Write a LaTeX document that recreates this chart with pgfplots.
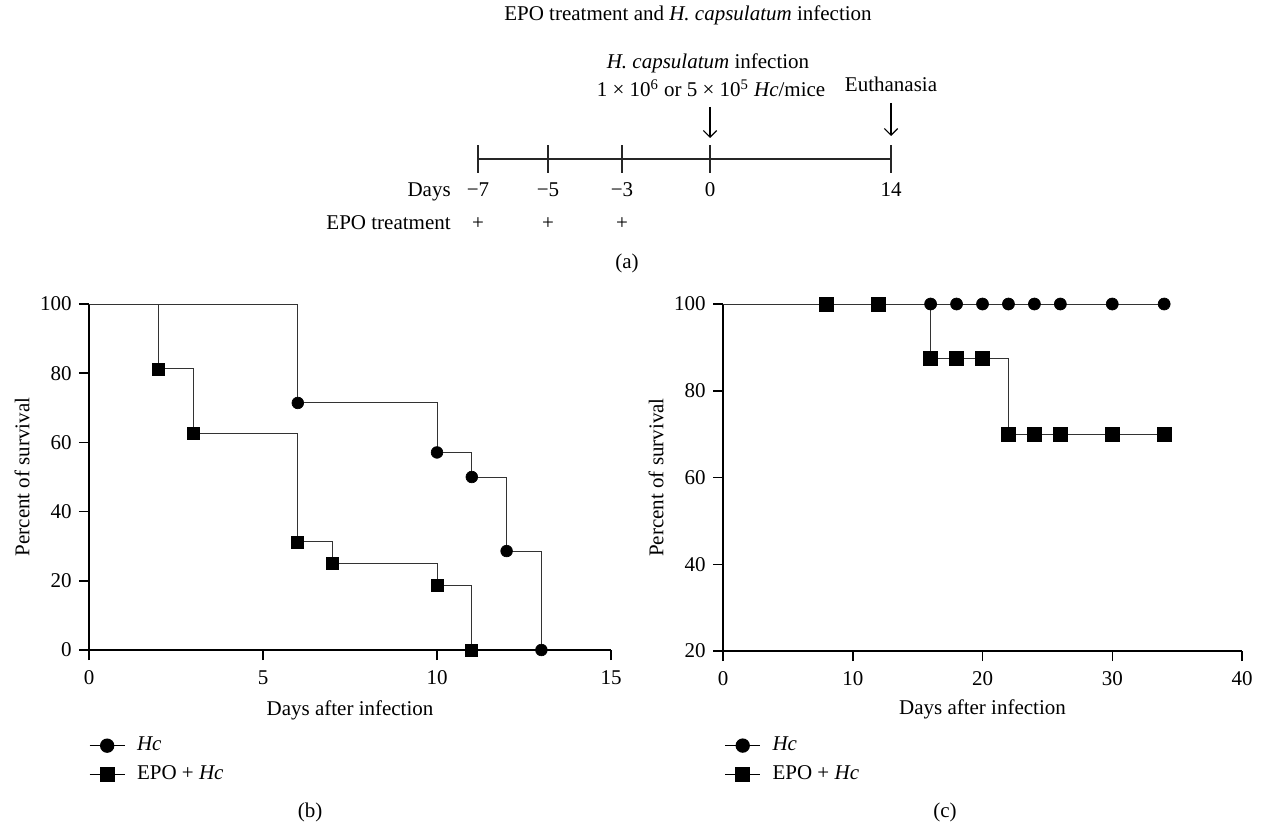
\documentclass[border=0pt]{standalone}
\usepackage{fontspec}
\setmainfont{Liberation Serif}
\usepackage{pgfplots}
\pgfplotsset{compat=1.18}
\usetikzlibrary{arrows.meta}
\pgfplotsset{
  survival/.style={
    scale only axis,
    axis lines=left,
    axis line style={-, line width=0.9pt, black},
    tick align=outside,
    major tick length=6pt,
    tick style={line width=0.9pt, black},
    /pgf/number format/assume math mode=true,
    xticklabel style={yshift=-2pt},
    clip=false,
    legend style={draw=none, fill=none, inner sep=0pt, outer sep=0pt,
      nodes={inner sep=0pt}, cells={anchor=west}, column sep=7pt, row sep=7pt},
    legend image code/.code={\draw[mark repeat=2,mark phase=2,##1] plot coordinates {(0pt,0pt) (10.5pt,0pt) (21pt,0pt)};},
  },
  steps/.style={const plot, black!80, line width=0.6pt, mark=none},
}
\begin{document}
\fontsize{12.6pt}{15pt}\selectfont
\begin{tikzpicture}[font=\fontsize{12.6pt}{15pt}\selectfont]
\useasboundingbox (0,0) rectangle (756.6pt,495.6pt);
% ---------- (a) timeline ----------
\node[anchor=base] at (412.8pt,483.2pt) {EPO treatment and \textit{H. capsulatum} infection};
\node[anchor=base] at (424.8pt,454.6pt) {\textit{H. capsulatum} infection};
\node[anchor=base] at (426.6pt,437.6pt) {1 × 10\textsuperscript{6} or 5 × 10\textsuperscript{5} \textit{Hc}/mice};
\node[anchor=base] at (534.6pt,440.6pt) {Euthanasia};
\draw[line width=0.9pt, black!85] (286.8pt,400.2pt) -- (534.6pt,400.2pt);
\foreach \x in {286.8,328.8,373.2,426,534.6}
  \draw[line width=0.9pt, black!85] (\x pt,391.8pt) -- (\x pt,408.6pt);
\draw[line width=0.7pt, -{Straight Barb[length=4pt,width=8pt]}] (426pt,431.4pt) -- (426pt,412.8pt);
\draw[line width=0.7pt, -{Straight Barb[length=4pt,width=8pt]}] (534.6pt,433.8pt) -- (534.6pt,414pt);
\node[anchor=base east, inner sep=0pt] at (270.6pt,377.4pt) {Days};
\node[anchor=base] at (286.8pt,377.4pt) {−7};
\node[anchor=base] at (328.8pt,377.4pt) {−5};
\node[anchor=base] at (373.2pt,377.4pt) {−3};
\node[anchor=base] at (426pt,377.4pt) {0};
\node[anchor=base] at (534.6pt,377.4pt) {14};
\node[anchor=base east, inner sep=0pt] at (270.6pt,357.6pt) {EPO treatment};
\node[anchor=base] at (286.8pt,357.6pt) {+};
\node[anchor=base] at (328.8pt,357.6pt) {+};
\node[anchor=base] at (373.2pt,357.6pt) {+};
\node[anchor=base] at (376.2pt,334.2pt) {(a)};
% ---------- (b) ----------
\begin{axis}[survival,
  at={(53.4pt,105.6pt)}, anchor=south west,
  width=313.2pt, height=207.6pt,
  xmin=0, xmax=15, ymin=0, ymax=100,
  xtick={0,5,10,15}, ytick={0,20,40,60,80,100},
  xlabel={Days after infection}, ylabel={Percent of survival},
  xlabel style={at={(axis description cs:0.5,-0.188)}, anchor=base},
  ylabel style={at={(axis description cs:-0.128,0.5)}, anchor=center},
  legend style={at={(axis description cs:0,-0.318)}, anchor=west},
]
\addplot[steps, forget plot] coordinates {(0,100) (6,71.4) (10,57.1) (11,50) (12,28.6) (13,0)};
\addplot[steps, forget plot] coordinates {(0,100) (2,81.25) (3,62.5) (6,31.25) (7,25) (10,18.75) (11,0)};
\addplot[only marks, mark=*, mark size=3.5pt, black, forget plot] coordinates {(6,71.4) (10,57.1) (11,50) (12,28.6) (13,0)};
\addplot[only marks, mark=square*, mark size=3.6pt, black, forget plot] coordinates {(2,81.25) (3,62.5) (6,31.25) (7,25) (10,18.75) (11,0)};
\addlegendimage{black, line width=0.8pt, mark=*, mark size=3.9pt}
\addlegendentry{\textit{Hc}}
\addlegendimage{black, line width=0.8pt, mark=square*, mark size=4.2pt}
\addlegendentry{EPO + \textit{Hc}}
\end{axis}
\node[anchor=base] at (186pt,5.4pt) {(b)};
% ---------- (c) ----------
\begin{axis}[survival,
  at={(433.8pt,105pt)}, anchor=south west,
  width=311.4pt, height=208.2pt,
  xmin=0, xmax=40, ymin=20, ymax=100,
  xtick={0,10,20,30,40}, ytick={20,40,60,80,100},
  xlabel={Days after infection}, ylabel={Percent of survival},
  xlabel style={at={(axis description cs:0.5,-0.184)}, anchor=base},
  ylabel style={at={(axis description cs:-0.129,0.5)}, anchor=center},
  legend style={at={(axis description cs:0.003,-0.314)}, anchor=west},
]
\addplot[steps, forget plot] coordinates {(0,100) (34,100)};
\addplot[steps, forget plot] coordinates {(0,100) (16,87.5) (22,70) (34,70)};
\addplot[only marks, mark=*, mark size=3.6pt, black, forget plot] coordinates {(16,100) (18,100) (20,100) (22,100) (24,100) (26,100) (30,100) (34,100)};
\addplot[only marks, mark=square*, mark size=4.2pt, black, forget plot] coordinates {(8,100) (12,100) (16,87.5) (18,87.5) (20,87.5) (22,70) (24,70) (26,70) (30,70) (34,70)};
\addlegendimage{black, line width=0.8pt, mark=*, mark size=3.9pt}
\addlegendentry{\textit{Hc}}
\addlegendimage{black, line width=0.8pt, mark=square*, mark size=4.2pt}
\addlegendentry{EPO + \textit{Hc}}
\end{axis}
\node[anchor=base] at (567pt,5.4pt) {(c)};
\end{tikzpicture}
\end{document}
